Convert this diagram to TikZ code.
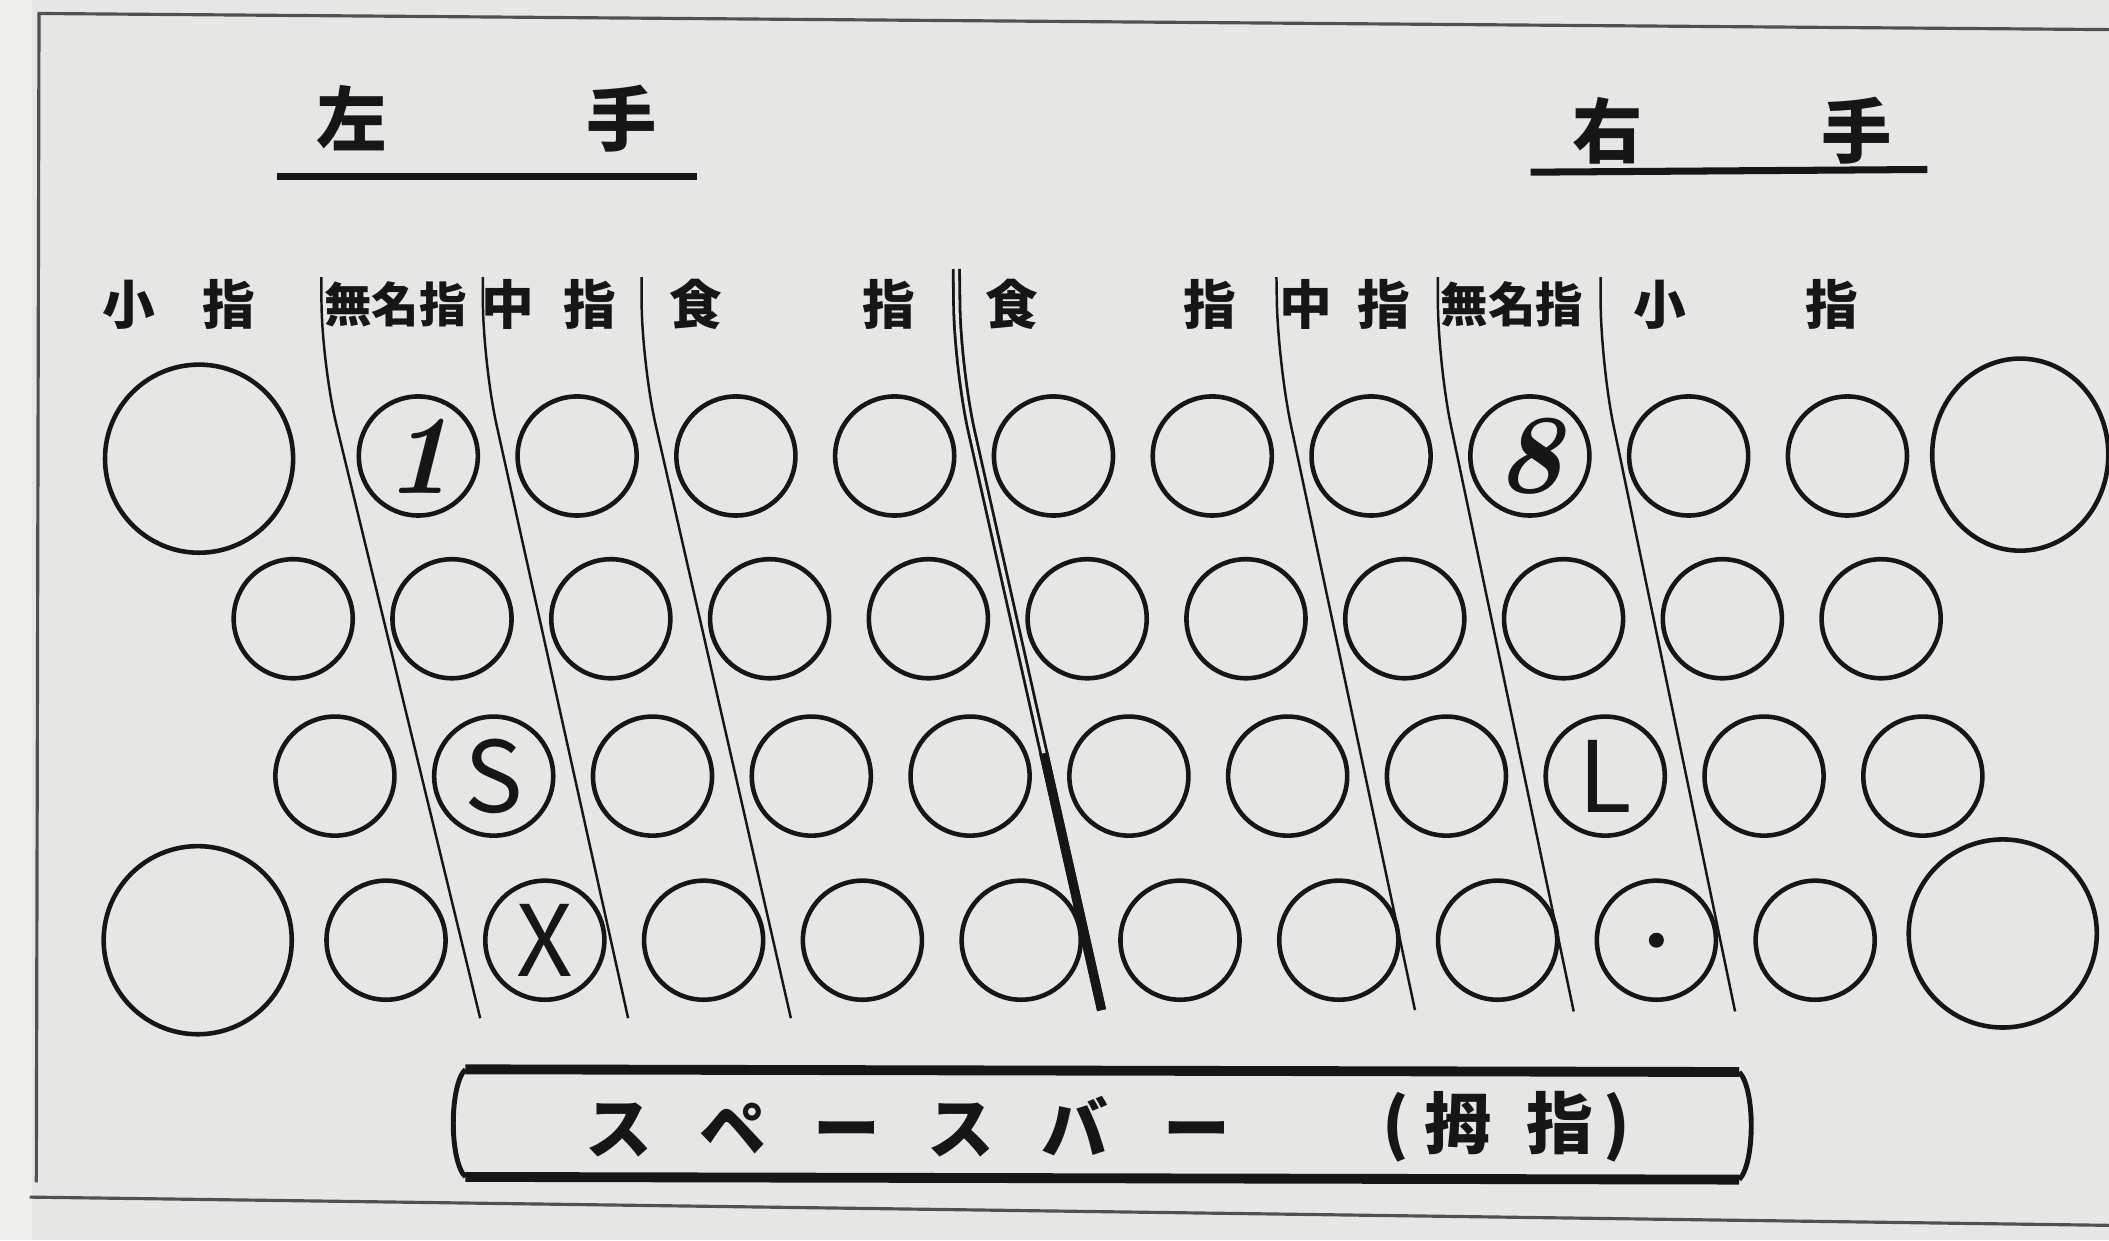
\documentclass[tikz,border=0pt]{standalone}
\usepackage{fontspec}
\newfontfamily\jp{Noto Sans CJK JP}
\usepackage{tikz}
\usetikzlibrary{positioning,shapes.geometric}
\definecolor{paper}{HTML}{E6E6E4}
\definecolor{margin}{HTML}{F0F0EF}
\definecolor{ink}{HTML}{161616}

\begin{document}
\begin{tikzpicture}[x=0.01345cm,y=-0.01345cm,
   key/.style={draw=ink,circle,line width=1.3pt,minimum size=11.9mm,
              inner sep=0pt,outer sep=0pt,text=ink},
   bigkey/.style={key,minimum size=18.8mm},
   numkey/.style={key,font=\rmfamily\itshape\bfseries\fontsize{32pt}{32pt}\selectfont},
   letkey/.style={key,font=\jp\fontsize{28pt}{28pt}\selectfont},
   finger/.style={font=\jp\bfseries\fontsize{15pt}{15pt}\selectfont,
              inner sep=0pt,text=ink},
   ring/.style={finger,font=\jp\bfseries\fontsize{13.5pt}{13.5pt}\selectfont},
   hand/.style={font=\jp\bfseries\fontsize{20pt}{20pt}\selectfont,
              inner sep=0pt,text=ink},
   spacelbl/.style={font=\jp\bfseries\fontsize{19pt}{19pt}\selectfont,
              inner sep=0pt,text=ink},
   divide/.style={draw=ink,line width=0.7pt,rounded corners=18pt},
   handdiv/.style={draw=ink,line width=0.8pt,double=paper,double distance=1pt,
              rounded corners=18pt},
   divbold/.style={draw=ink,line width=2.6pt},
   uline/.style={draw=ink,line width=2pt},
   frame/.style={draw=ink!75,line width=0.9pt},
   sbline/.style={draw=ink,line width=2.8pt},
   sbend/.style={draw=ink,line width=1.4pt},
   node distance=3.97mm,
]
\useasboundingbox (0,0) rectangle (1568,922);
\fill[paper] (0,0) rectangle (1568,922);
\fill[margin] (0,0) rectangle (24,922);

% frame of the plate
\draw[frame] (28,10) -- (1568,22);
\draw[frame] (29,10) -- (27,879);
\draw[frame] (22,890) -- (1568,911);

% hands
\node[hand] (lhand) at (362,88) {左\hspace{20mm}手};
\draw[uline] (206,131) -- (518,131);
\node[hand] (rhand) at (1288,97) {右\hspace{17.9mm}手};
\draw[uline] (1138,128) -- (1433,126);

% fingers
\node[finger] (lpinky) at (133,226) {小\hspace{4.8mm}指};
\node[ring]   (lring)  at (294,226) {無名指};
\node[finger] (lmid)   at (408,226) {中\hspace{2.9mm}指};
\node[finger] (lindex) at (589,226) {食\hspace{14mm}指};
\node[finger] (rindex) at (826,226) {食\hspace{14.5mm}指};
\node[finger] (rmid)   at (1000,226) {中\hspace{2.5mm}指};
\node[ring]   (rring)  at (1124,226) {無名指};
\node[finger] (rpinky) at (1298,226) {小\hspace{11.9mm}指};

% number row
\node[bigkey] (bigtl) at (148,341) {};
\node[numkey] (n1) at (311,339) {1};
\node[key,right=of n1] (n2) {};
\node[key,right=of n2] (n3) {};
\node[key,right=of n3] (n4) {};
\node[key,right=of n4] (n5) {};
\node[key,right=of n5] (n6) {};
\node[key,right=of n6] (n7) {};
\node[numkey,right=of n7] (n8) {8};
\node[key,right=of n8] (n9) {};
\node[key,right=of n9] (n10) {};
\node[bigkey,ellipse,minimum width=17.6mm,minimum height=19.2mm] (bigtr) at (1502,338) {};

% upper row
\node[key] (q1) at (218,460) {};
\node[key,right=of q1] (q2) {};
\node[key,right=of q2] (q3) {};
\node[key,right=of q3] (q4) {};
\node[key,right=of q4] (q5) {};
\node[key,right=of q5] (q6) {};
\node[key,right=of q6] (q7) {};
\node[key,right=of q7] (q8) {};
\node[key,right=of q8] (q9) {};
\node[key,right=of q9] (q10) {};
\node[key,right=of q10] (q11) {};

% home row
\node[key] (a1) at (249,577) {};
\node[letkey,right=of a1] (a2) {S};
\node[key,right=of a2] (a3) {};
\node[key,right=of a3] (a4) {};
\node[key,right=of a4] (a5) {};
\node[key,right=of a5] (a6) {};
\node[key,right=of a6] (a7) {};
\node[key,right=of a7] (a8) {};
\node[letkey,right=of a8] (a9) {L};
\node[key,right=of a9] (a10) {};
\node[key,right=of a10] (a11) {};

% lower row
\node[bigkey] (bigbl) at (147,699) {};
\node[key] (z1) at (287,699) {};
\node[letkey,right=of z1] (z2) {X};
\node[key,right=of z2] (z3) {};
\node[key,right=of z3] (z4) {};
\node[key,right=of z4] (z5) {};
\node[key,right=of z5] (z6) {};
\node[key,right=of z6] (z7) {};
\node[key,right=of z7] (z8) {};
\node[key,right=of z8] (z9) {};
\node[key,right=of z9] (z10) {};
\node[bigkey] (bigbr) at (1489,694) {};
\fill[ink] (z9.center) circle (0.75mm);

% finger boundaries
\draw[divide]  (239,206) -- (239,270) -- (357,757);
\draw[divide]  (359,206) -- (359,270) -- (467,757);
\draw[divide]  (477,206) -- (477,270) -- (588,757);
\draw[handdiv] (711,200) -- (712,275) -- (819,751);
\draw[divbold] (776,560) -- (819,751);
\draw[divide]  (949,206) -- (950,270) -- (1052,751);
\draw[divide]  (1069,206) -- (1069,270) -- (1170,752);
\draw[divide]  (1190,206) -- (1190,270) -- (1290,752);

% space bar
\coordinate (sbtl) at (346,795);
\coordinate (sbtr) at (1293,797);
\coordinate (sbbl) at (346,875);
\coordinate (sbbr) at (1293,877);
\draw[sbline] (sbtl) -- (sbtr);
\draw[sbline] (sbbl) -- (sbbr);
\draw[sbend] (sbtl) .. controls +(-12,12) and +(-12,-12) .. (sbbl);
\draw[sbend] (sbtr) .. controls +(12,12) and +(12,-12) .. (sbbr);
\node[spacelbl] (sbar) at (675,838)
   {ス\hspace{4.7mm}ペ\hspace{4.7mm}ー\hspace{4.7mm}ス\hspace{4.7mm}バ\hspace{5.5mm}ー};
\node[spacelbl] (thumb) at (1120,838) {(\hspace{1.5mm}拇\hspace{3.5mm}指\hspace{1mm})};
\end{tikzpicture}
\end{document}
